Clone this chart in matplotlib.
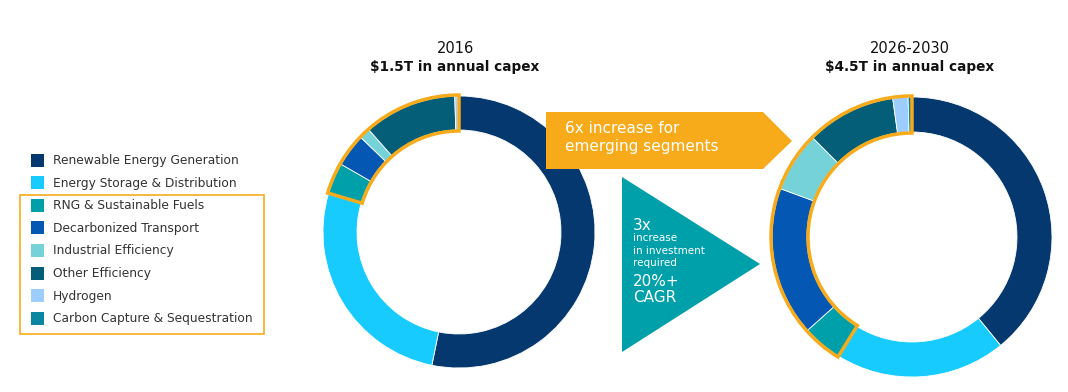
import matplotlib.pyplot as plt
from matplotlib.patches import Wedge, Polygon, Rectangle

# segments, clockwise from 12 o'clock
categories = ["Renewable Energy Generation", "Energy Storage & Distribution",
              "RNG & Sustainable Fuels", "Decarbonized Transport",
              "Industrial Efficiency", "Other Efficiency", "Hydrogen",
              "Carbon Capture & Sequestration"]
colors = ["#05386E", "#18CBFF", "#00A0AA", "#0457B3",
          "#74D2D8", "#045E78", "#9DCCFF", "#0A86A2"]
share_2016 = [53.2, 26.4, 3.7, 3.9, 1.3, 11.0, 0.3, 0.2]
share_2030 = [39.1, 19.7, 4.6, 17.2, 6.9, 10.3, 1.75, 0.45]
emerging_from = 2  # index of the first "emerging" segment

titles = [("2016", "$1.5T in annual capex"), ("2026-2030", "$4.5T in annual capex")]

ORANGE = "#F7AB1B"
TEAL = "#00A0AA"
TXT = "#333333"

W, H = 1068, 392
fig = plt.figure(figsize=(W / 100, H / 100), dpi=100)
ax = fig.add_axes([0, 0, 1, 1])


def donut(vals, cx, cy, r, width):
    ax.pie(vals, colors=colors, startangle=90, counterclock=False,
           center=(cx, H - cy), radius=r,
           wedgeprops=dict(width=width, edgecolor="white", linewidth=0.6))
    grp = sum(vals[emerging_from:]) / sum(vals)
    ax.add_patch(Wedge((cx, H - cy), r + 1, 90, 90 + 360 * grp, width=width + 2,
                       fill=False, edgecolor=ORANGE, linewidth=2.5, zorder=5))


donut(share_2016, 459, 232, 136, 34)
donut(share_2030, 912, 237, 140, 35)

# titles
for (yr, cap), cx in zip(titles, [455, 910]):
    ax.text(cx, H - 48, yr, ha="center", va="center", fontsize=10.5, color="#111111")
    ax.text(cx, H - 67, cap, ha="center", va="center", fontsize=9.8,
            fontweight="bold", color="#111111")

# orange arrow box
ax.add_patch(Polygon([(546, H - 112), (763, H - 112), (792, H - 141),
                      (763, H - 169), (546, H - 169)], closed=True,
                     facecolor=ORANGE, edgecolor="none"))
ax.text(565, H - 128, "6x increase for", fontsize=11, color="white", va="center")
ax.text(565, H - 146, "emerging segments", fontsize=11, color="white", va="center")

# teal triangle
ax.add_patch(Polygon([(622, H - 177), (760, H - 264), (622, H - 352)], closed=True,
                     facecolor=TEAL, edgecolor="none"))
ax.text(633, H - 225, "3x", fontsize=11, color="white", va="center")
for y, s in zip([238, 251, 263], ["increase", "in investment", "required"]):
    ax.text(633, H - y, s, fontsize=7.5, color="white", va="center")
ax.text(633, H - 281, "20%+", fontsize=11, color="white", va="center")
ax.text(633, H - 297, "CAGR", fontsize=11, color="white", va="center")

# legend
for i, (lab, c) in enumerate(zip(categories, colors)):
    y = H - (160.5 + 22.6 * i)
    ax.add_patch(Rectangle((31, y - 6), 13, 13, facecolor=c, edgecolor="none"))
    ax.text(53, y, lab, fontsize=8.8, color=TXT, va="center")
ax.add_patch(Rectangle((19.5, H - 334), 244, 139, fill=False,
                       edgecolor=ORANGE, linewidth=1.2))

ax.set_xlim(0, W)
ax.set_ylim(0, H)
ax.set_aspect("equal")
ax.axis("off")
fig.savefig("out.png", dpi=100, facecolor="white")
